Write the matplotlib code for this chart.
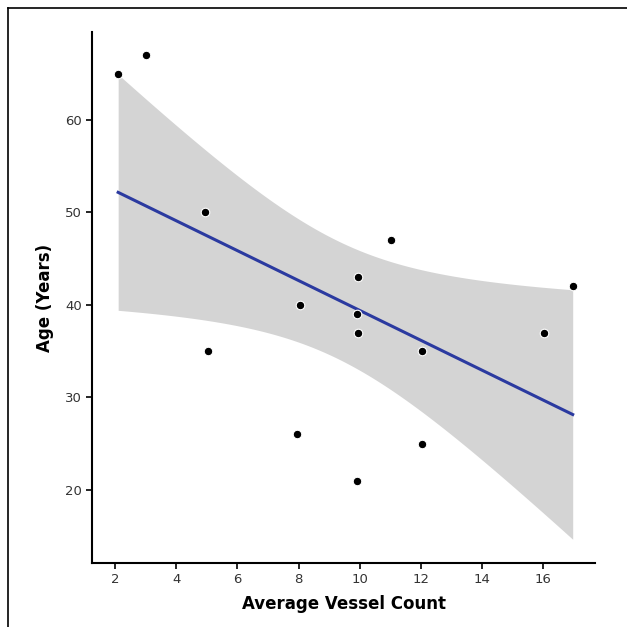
import numpy as np
import matplotlib.pyplot as plt
from matplotlib.lines import Line2D

vessel = [2.1, 3.0, 4.95, 5.05, 7.95, 8.05, 9.9, 9.94, 9.9, 9.96, 11.02, 12.05, 12.05, 16.04, 16.97]
age = [65, 67, 50, 35, 26, 40, 21, 43, 39, 37, 47, 35, 25, 37, 42]
xticks = [2, 4, 6, 8, 10, 12, 14, 16]
yticks = [20, 30, 40, 50, 60]

x = np.array(vessel)
y = np.array(age)
n = len(x)

# linear fit with 95% confidence band (like geom_smooth(method='lm'))
slope, icpt = np.polyfit(x, y, 1)
xs = np.linspace(x.min(), x.max(), 200)
fit = icpt + slope * xs
resid = y - (icpt + slope * x)
s = np.sqrt(np.sum(resid**2) / (n - 2))
sxx = np.sum((x - x.mean())**2)
tval = 2.160  # t(0.975, 13)
se = s * np.sqrt(1/n + (xs - x.mean())**2 / sxx)

fig = plt.figure(figsize=(6.27, 6.27), dpi=100)
ax = fig.add_axes([0.147, 0.102, 0.802, 0.847])

ax.fill_between(xs, fit - tval*se, fit + tval*se, color='#d4d4d4', lw=0, zorder=1)
ax.plot(xs, fit, color='#2b3aa0', lw=2.2, zorder=2)
ax.scatter(x, y, s=38, c='black', edgecolors='white', linewidths=0.8, zorder=3)

ax.set_xlim(1.25, 17.7)
ax.set_ylim(12.1, 69.5)
ax.set_xticks(xticks)
ax.set_yticks(yticks)

for side in ['top', 'right']:
    ax.spines[side].set_visible(False)
for side in ['left', 'bottom']:
    ax.spines[side].set_linewidth(1.5)
ax.tick_params(length=4, width=1.2, labelsize=9.5, labelcolor='#333333')

ax.set_xlabel('Average Vessel Count', fontsize=12, fontweight='bold', labelpad=6)
ax.set_ylabel('Age (Years)', fontsize=12, fontweight='bold', labelpad=8)

# image border at top and left
fig.add_artist(Line2D([0.013, 0.013], [0, 0.987], color='black', lw=1.2, transform=fig.transFigure))
fig.add_artist(Line2D([0.013, 1], [0.987, 0.987], color='black', lw=1.2, transform=fig.transFigure))

fig.savefig('out.png', dpi=100)
